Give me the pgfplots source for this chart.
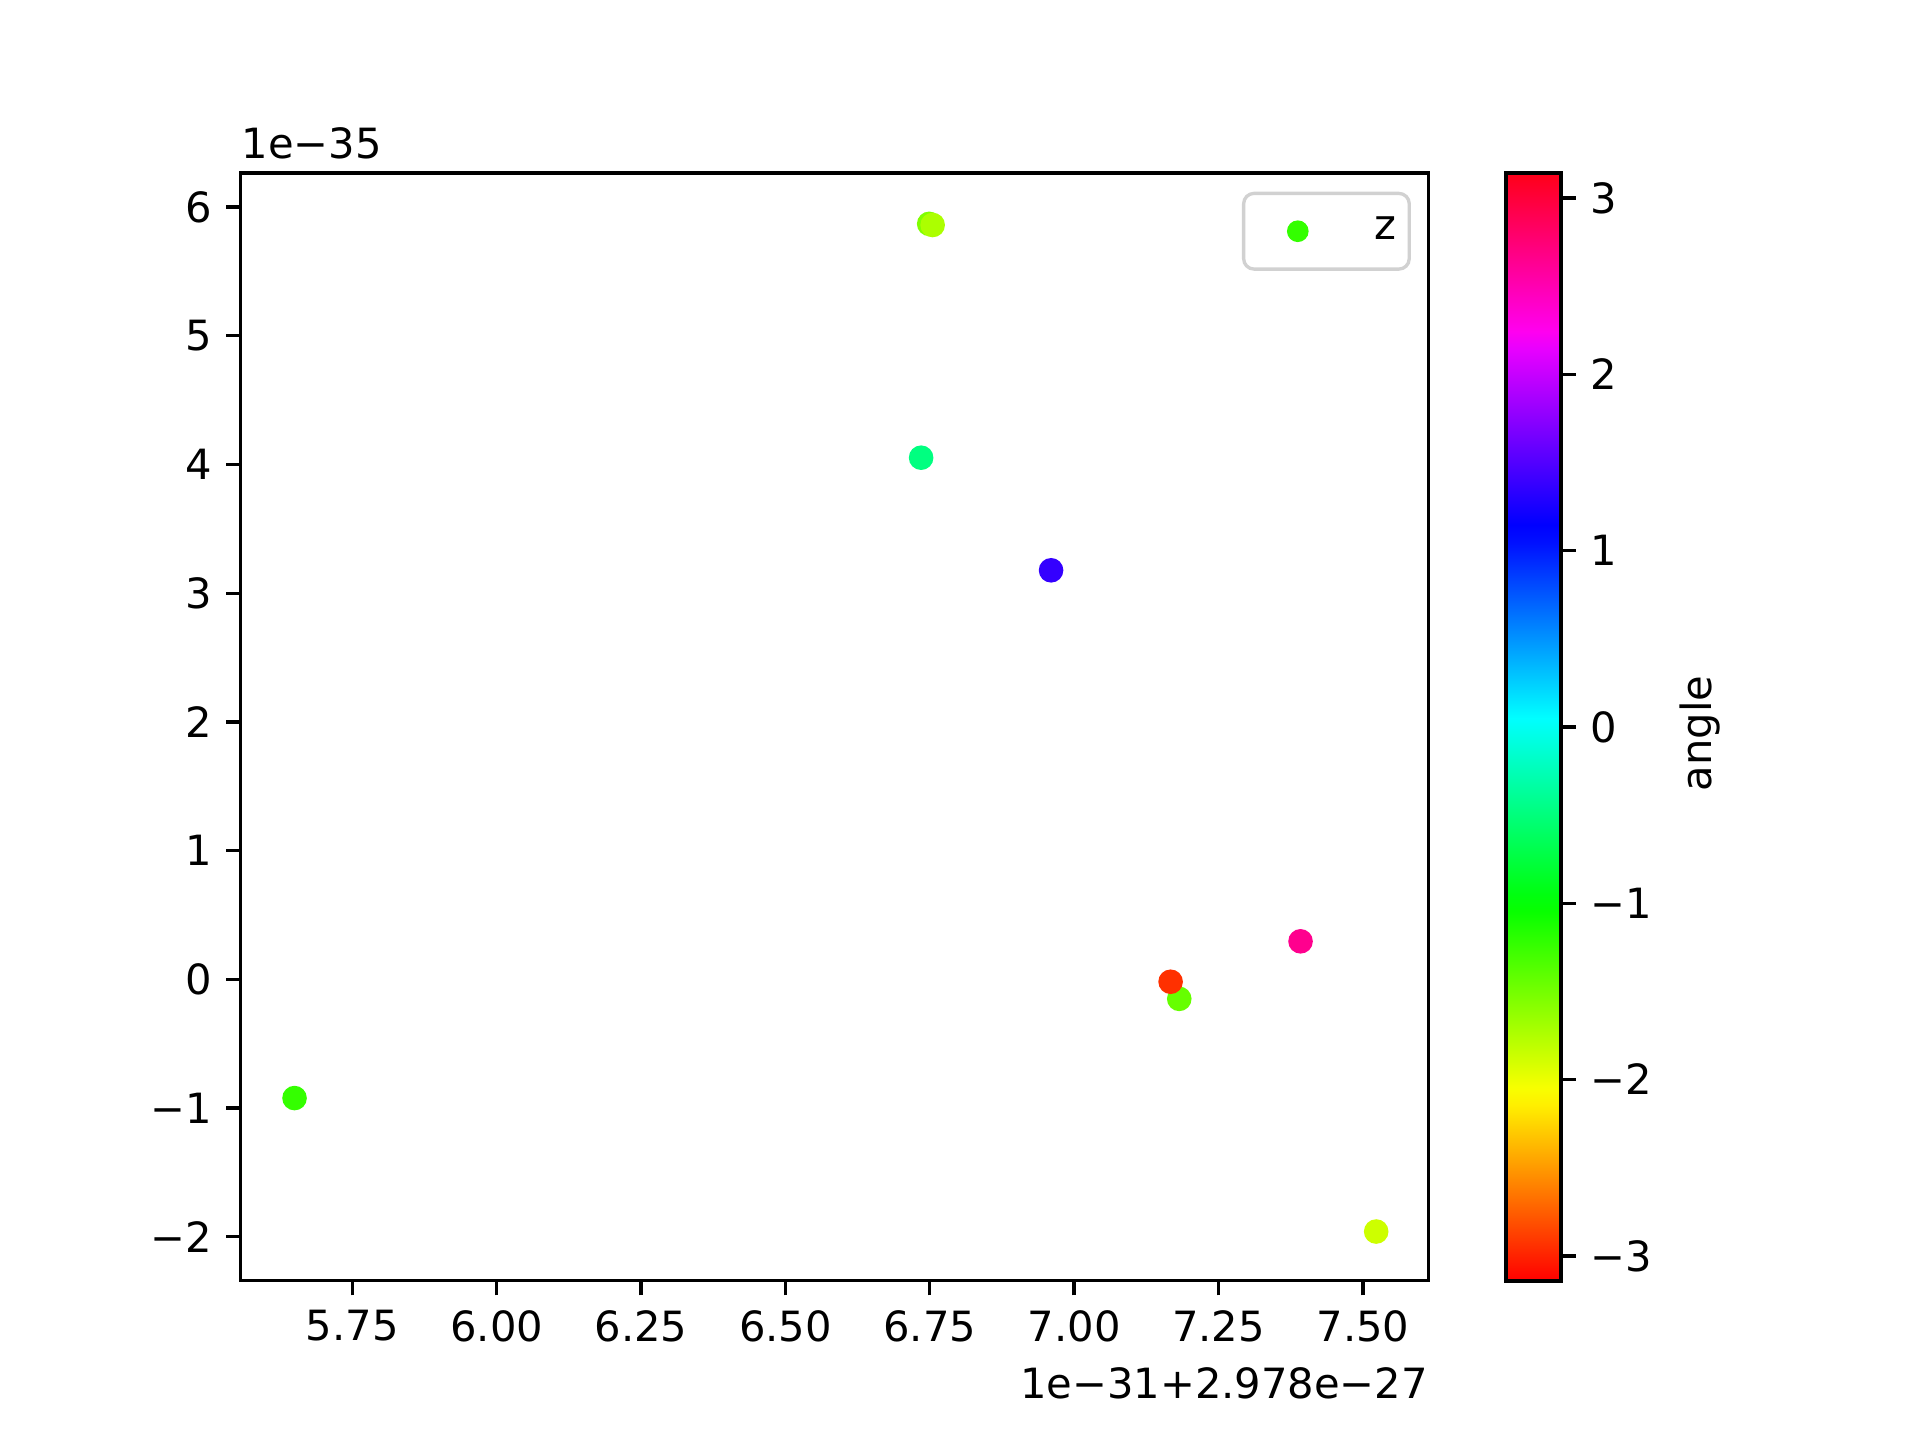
\documentclass[border=0pt]{standalone}
\usepackage{pgfplots}
\pgfplotsset{compat=1.18}
\usepackage{fontspec}
\setmainfont{DejaVu Sans}

% matplotlib's hsv map, breakpoints at multiples of 1/63
\pgfplotsset{
  colormap={mplhsv}{
    rgb(0pt)=(1,0,0)
    rgb(10pt)=(1,0.9375,0)
    rgb(11pt)=(0.96875,1,0)
    rgb(21pt)=(0.03125,1,0)
    rgb(22pt)=(0,1,0.0625)
    rgb(32pt)=(0,1,1)
    rgb(42pt)=(0,0.0625,1)
    rgb(43pt)=(0,0,1)
    rgb(53pt)=(0.909,0,1)
    rgb(54pt)=(1,0,0.9375)
    rgb(63pt)=(1,0,0.09375)
  }
}
\definecolor{zgreen}{rgb}{0.2,1,0}

\pgfplotstableread{
x      y       c
5.650  -0.923  -1.23
6.749   5.870  -1.55
6.755   5.861  -1.73
6.735   4.053  -0.48
6.960   3.178   1.37
7.392   0.295   2.65
7.182  -0.152  -1.44
7.167  -0.019  -2.94
7.523  -1.960  -1.87
}\pts

\begin{document}
\begin{tikzpicture}
\path[use as bounding box] (0,0) rectangle (460.8pt,345.6pt);
\begin{axis}[
  at={(57.8pt,38.2pt)}, anchor=south west,
  scale only axis, width=285.1pt, height=265.9pt,
  font=\fontsize{10}{12}\selectfont,
  xmin=5.557, xmax=7.614, ymin=-2.343, ymax=6.266,
  clip=false,
  axis line style={line width=0.8pt},
  tick style={black, line width=0.8pt},
  tick align=outside, major tick length=3.5pt,
  xtick pos=left, ytick pos=left,
  xtick={5.75,6.00,6.25,6.50,6.75,7.00,7.25,7.50},
  xticklabels={5.75,6.00,6.25,6.50,6.75,7.00,7.25,7.50},
  ytick={-2,-1,0,1,2,3,4,5,6},
  yticklabels={−2,−1,0,1,2,3,4,5,6},
  colormap name=mplhsv,
  point meta min=-3.14159, point meta max=3.14159,
  colorbar,
  colorbar style={
    at={(parent axis.north east)}, anchor=north west, xshift=10pt,
    width=13.2pt,
    axis line style={line width=0.8pt},
    tick style={black, line width=0.8pt},
    tick align=outside, major tick length=3.5pt,
    ytick pos=right,
    ytick={-3,-2,-1,0,1,2,3},
    yticklabels={−3,−2,−1,0,1,2,3},
    ylabel={angle},
    ylabel style={xshift=-1.6pt},
    font=\fontsize{10}{12}\selectfont,
  },
  legend style={at={(rel axis cs:0.985,0.983)}, anchor=north east,
    draw=black!18, line width=0.8pt, rounded corners=2.5pt,
    inner xsep=1pt, inner ysep=3.6pt,
    font=\fontsize{10}{12}\selectfont},
]
\addplot[scatter, only marks, mark=*, mark size=2.75pt,
  scatter/use mapped color={draw=mapped color, fill=mapped color},
  point meta=explicit,
  legend image code/.code={
    \path[draw=none, fill=none] (0,-2pt) rectangle (28.5pt,2pt);
    \fill[zgreen, draw=none] (12pt,0) circle (2.6pt);}
] table[x=x, y=y, meta=c] {\pts};
\addlegendentry{z}
\node[anchor=south west, inner sep=0pt] at (rel axis cs:0,1) [yshift=3pt] {1e−35};
\node[anchor=north east, inner sep=0pt] at (rel axis cs:1,0) [yshift=-20.5pt] {1e−31+2.978e−27};
\end{axis}
\end{tikzpicture}
\end{document}
